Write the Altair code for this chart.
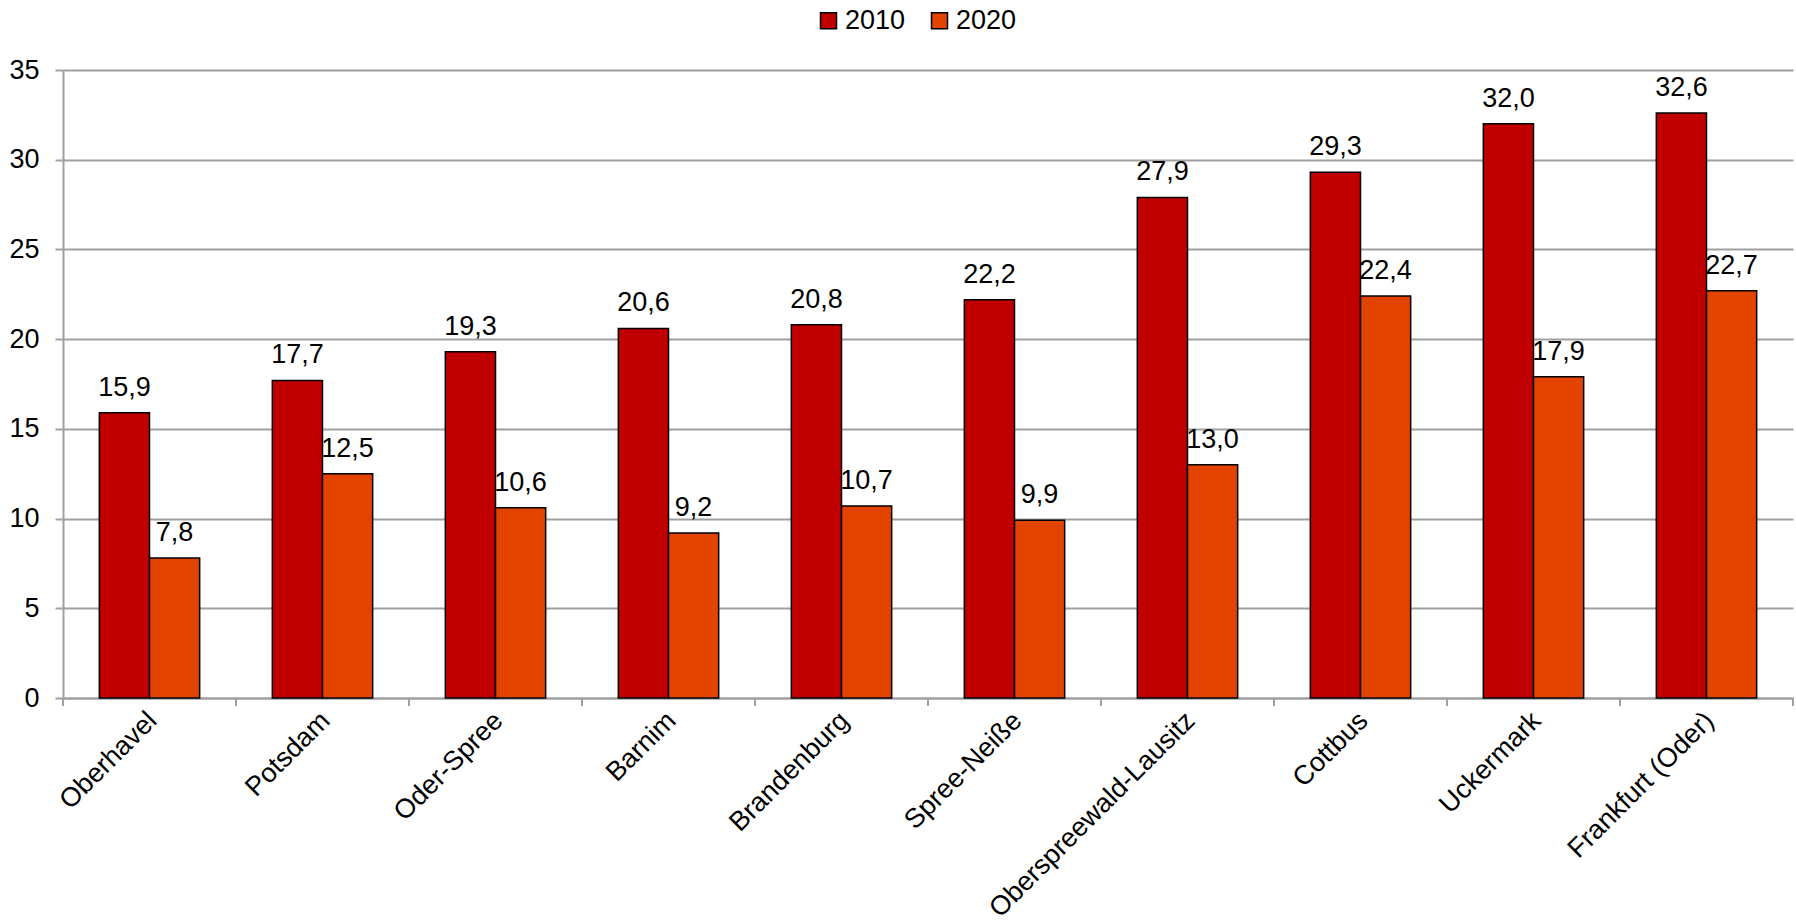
import altair as alt
import pandas as pd

categories = ["Oberhavel", "Potsdam", "Oder-Spree", "Barnim", "Brandenburg",
              "Spree-Neiße", "Oberspreewald-Lausitz", "Cottbus", "Uckermark", "Frankfurt (Oder)"]
values_2010 = [15.9, 17.7, 19.3, 20.6, 20.8, 22.2, 27.9, 29.3, 32.0, 32.6]
values_2020 = [7.8, 12.5, 10.6, 9.2, 10.7, 9.9, 13.0, 22.4, 17.9, 22.7]
years = ["2010", "2020"]
colors = ["#C00000", "#E24400"]
y_ticks = [0, 5, 10, 15, 20, 25, 30, 35]

rows = []
for c, a, b in zip(categories, values_2010, values_2020):
    rows.append({"cat": c, "year": "2010", "value": a})
    rows.append({"cat": c, "year": "2020", "value": b})
df = pd.DataFrame(rows)
cat_df = pd.DataFrame({"cat": categories, "last": [i == len(categories) - 1 for i in range(len(categories))]})

W, H = 1730, 628
FONT = "Liberation Sans"
FS = 27
GRID = "#A0A0A0"

xscale = alt.Scale(domain=categories, paddingInner=0.42, paddingOuter=0.21)
xenc = alt.X("cat:N", sort=categories, scale=xscale,
             axis=alt.Axis(title=None, labelAngle=-45, labelAlign="right", labelBaseline="top",
                           labelPadding=9, labelOffset=-6, labelLimit=0, ticks=False,
                           domainColor=GRID, domainWidth=2,
                           labelFont=FONT, labelFontSize=FS, labelColor="#000000"))
xoff = alt.XOffset("year:N", sort=years, scale=alt.Scale(paddingInner=0, paddingOuter=0))

bars = alt.Chart(df).mark_bar(stroke="#000000", strokeWidth=1.5).encode(
    x=xenc,
    xOffset=xoff,
    y=alt.Y("value:Q", scale=alt.Scale(domain=[0, 35], nice=False),
            axis=alt.Axis(title=None, values=y_ticks, grid=True, gridColor=GRID, gridWidth=2,
                          domainColor=GRID, domainWidth=2, tickColor=GRID, tickWidth=2, tickSize=8,
                          labelPadding=16, labelFont=FONT, labelFontSize=FS, labelColor="#000000")),
    color=alt.Color("year:N", sort=years, scale=alt.Scale(domain=years, range=colors),
                    legend=alt.Legend(title=None, orient="none", direction="horizontal",
                                      legendX=752, legendY=-63, symbolType="square",
                                      symbolSize=256, symbolStrokeColor="#000000", symbolStrokeWidth=1.5,
                                      labelFont=FONT, labelFontSize=FS, labelColor="#000000",
                                      labelOffset=3, columnPadding=20, padding=0)),
)

labels = alt.Chart(df).transform_calculate(
    lbl="replace(format(datum.value, '.1f'), '.', ',')"
).mark_text(baseline="alphabetic", dy=-17, font=FONT, fontSize=FS, color="#000000").encode(
    x=alt.X("cat:N", sort=categories, scale=xscale),
    xOffset=xoff,
    y=alt.Y("value:Q"),
    text="lbl:N",
)

tick_scale = alt.Scale(domain=categories, paddingInner=0, paddingOuter=0)
ticks0 = alt.Chart(cat_df).mark_rule(color=GRID, strokeWidth=2).encode(
    x=alt.X("cat:N", sort=categories, scale=tick_scale, axis=None, bandPosition=0),
    y=alt.value(H), y2=alt.value(H + 8),
)
ticks1 = alt.Chart(cat_df).transform_filter("datum.last").mark_rule(color=GRID, strokeWidth=2).encode(
    x=alt.X("cat:N", sort=categories, scale=tick_scale, axis=None, bandPosition=1),
    y=alt.value(H), y2=alt.value(H + 8),
)

base = alt.layer(bars, labels).resolve_scale(x="shared")
chart = alt.layer(base, ticks0, ticks1).resolve_scale(x="independent").properties(
    width=W, height=H,
    autosize=alt.AutoSizeParams(type="none"),
    padding={"left": 63, "top": 70, "right": 3, "bottom": 226},
    background="#FFFFFF",
).configure_view(stroke=None)

chart.save("out.html", embed_options={"renderer": "svg", "actions": False})
